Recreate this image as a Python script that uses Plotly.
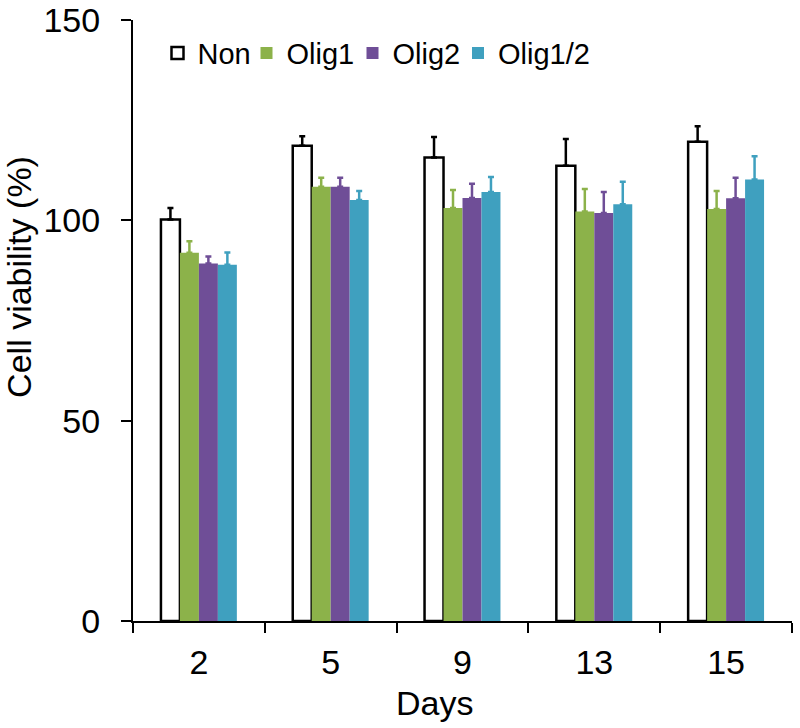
import plotly.graph_objects as go

days = ["2", "5", "9", "13", "15"]
series_names = ["Non", "Olig1", "Olig2", "Olig1/2"]
non = [100.2, 118.6, 115.7, 113.6, 119.6]
olig1 = [91.9, 108.4, 103.1, 102.2, 102.8]
olig2 = [89.2, 108.4, 105.6, 101.8, 105.5]
olig12 = [88.9, 105.1, 107.1, 104.0, 110.2]
non_err = [2.9, 2.4, 5.1, 6.7, 3.9]
olig1_err = [2.9, 2.2, 4.5, 5.6, 4.5]
olig2_err = [1.8, 2.2, 3.5, 5.3, 5.1]
olig12_err = [3.1, 2.2, 3.7, 5.6, 5.8]

values = [non, olig1, olig2, olig12]
errors = [non_err, olig1_err, olig2_err, olig12_err]
fills = ["white", "#8CB24A", "#6F4E97", "#3FA0BF"]
edges = ["black", "#8CB24A", "#6F4E97", "#3FA0BF"]
err_colors = ["black", "#8CB24A", "#6F4E97", "#3FA0BF"]
edge_w = [2.5, 0, 0, 0]
legend_ids = ["legend", "legend2", "legend3", "legend4"]
legend_px = [157.5, 246.5, 352.5, 458.0]

L, R, T, B = 133, 8, 20, 107
W, H = 800, 728
plot_w = W - L - R

fig = go.Figure()
for name, v, e, fc, ec, ew, erc, lid in zip(series_names, values, errors, fills, edges, edge_w,
                                            err_colors, legend_ids):
    fig.add_trace(go.Bar(
        x=days, y=v, name=name, legend=lid,
        marker=dict(color=fc, line=dict(color=ec, width=ew)),
        error_y=dict(type="data", symmetric=False, array=e, arrayminus=[0] * len(e),
                     color=erc, thickness=2.5, width=3),
    ))

font_family = "Liberation Sans, Arial, sans-serif"
legend_layouts = {}
for lid, px in zip(legend_ids, legend_px):
    legend_layouts[lid] = dict(orientation="h", x=(px - L) / plot_w, xanchor="left",
                               y=0.945, yanchor="middle",
                               font=dict(size=29, family=font_family, color="black"),
                               bgcolor="rgba(0,0,0,0)")

fig.update_layout(
    width=W, height=H,
    margin=dict(l=L, r=R, t=T, b=B),
    paper_bgcolor="white", plot_bgcolor="white",
    barmode="group", bargap=0.424, bargroupgap=0,
    font=dict(family=font_family, color="black", size=34),
    showlegend=True,
    xaxis=dict(type="category", showline=True, linecolor="black", linewidth=2,
               ticks="outside", tickson="boundaries", ticklen=10, tickwidth=2, tickcolor="black",
               tickfont=dict(size=34), showgrid=False, automargin=False,
               ticklabelstandoff=10),
    yaxis=dict(range=[0, 150], tickvals=[0, 50, 100, 150], showline=True, linecolor="black", linewidth=2,
               ticks="outside", ticklen=10, tickwidth=2, tickcolor="black",
               tickfont=dict(size=34), showgrid=False, zeroline=False, automargin=False,
               ticklabelstandoff=14),
    annotations=[
        dict(text="Cell viability (%)", textangle=-90, xref="paper", yref="paper",
             x=-0.172, y=0.572, xanchor="center", yanchor="middle", showarrow=False,
             font=dict(size=34, family=font_family, color="black")),
        dict(text="Days", xref="paper", yref="paper",
             x=(434 - L) / plot_w, y=-0.137, xanchor="center", yanchor="middle", showarrow=False,
             font=dict(size=34, family=font_family, color="black")),
    ],
    **legend_layouts,
)

fig.write_html("out.html", config={"displayModeBar": False},
               post_script="document.body.style.margin='0';document.body.style.overflow='hidden';")
